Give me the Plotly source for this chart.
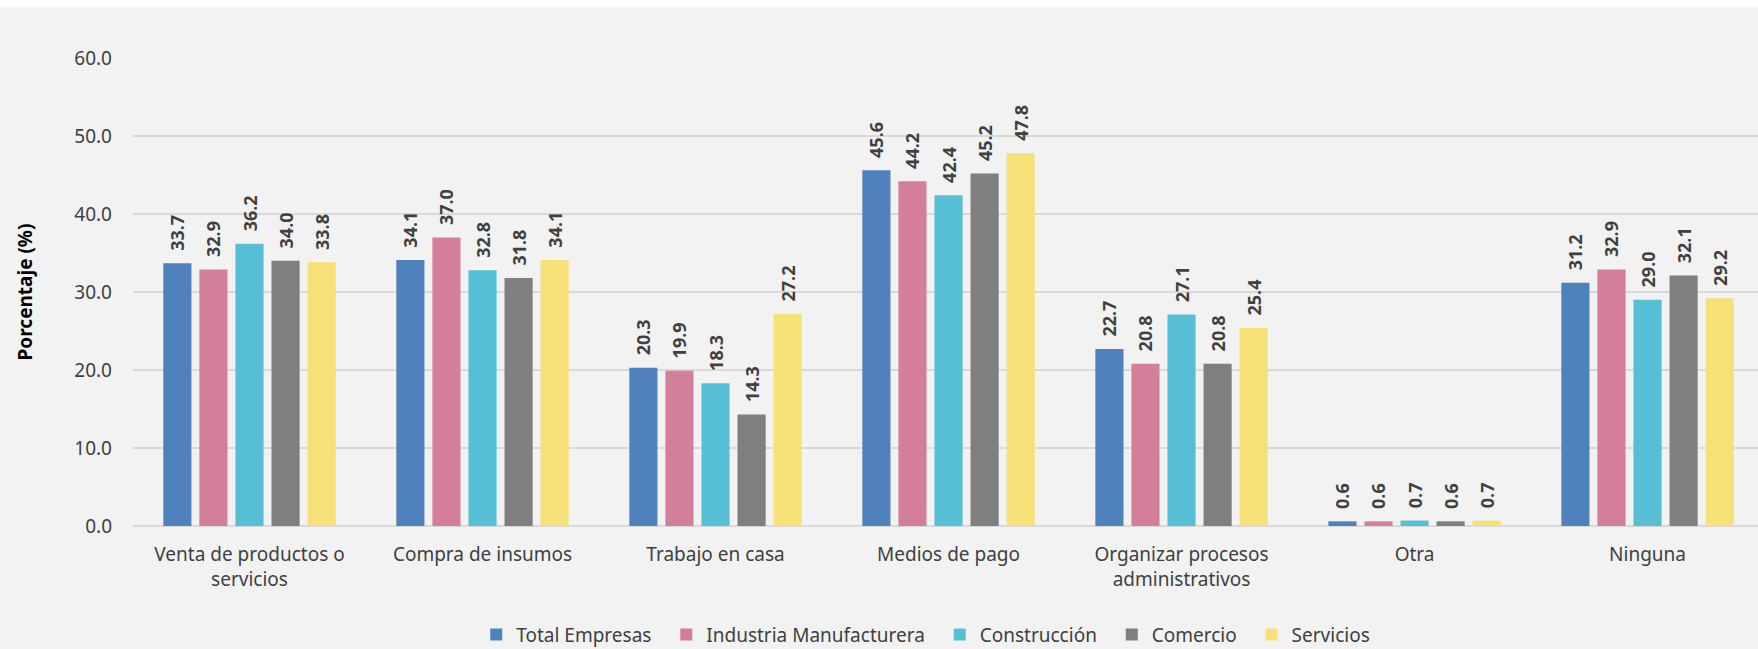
import plotly.graph_objects as go

categories = ["Venta de productos o<br>servicios", "Compra de insumos", "Trabajo en casa",
              "Medios de pago", "Organizar procesos<br>administrativos", "Otra", "Ninguna"]
series_names = ["Total Empresas", "Industria Manufacturera", "Construcción", "Comercio", "Servicios"]
total_empresas = [33.7, 34.1, 20.3, 45.6, 22.7, 0.6, 31.2]
industria_manufacturera = [32.9, 37.0, 19.9, 44.2, 20.8, 0.6, 32.9]
construccion = [36.2, 32.8, 18.3, 42.4, 27.1, 0.7, 29.0]
comercio = [34.0, 31.8, 14.3, 45.2, 20.8, 0.6, 32.1]
servicios = [33.8, 34.1, 27.2, 47.8, 25.4, 0.7, 29.2]
y_ticks = [0, 10, 20, 30, 40, 50, 60]

series_values = [total_empresas, industria_manufacturera, construccion, comercio, servicios]
colors = ["#4f81bd", "#d47f9a", "#56bfd6", "#7f7f7f", "#f7e077"]

FONT = "Noto Sans, Open Sans, sans-serif"
TXT = "#404040"

fig = go.Figure()
n = len(series_names)
for i, (name, vals, col) in enumerate(zip(series_names, series_values, colors)):
    legend_label = name + ("\u00a0\u00a0" if i < n - 1 else "")
    fig.add_trace(go.Bar(
        name=legend_label, x=categories, y=vals,
        marker=dict(color=col, line=dict(width=0)),
        text=[f"\u00a0\u00a0{v:.1f}" for v in vals],
        textposition="outside", textangle=-90, constraintext="none",
        textfont=dict(family=FONT, size=18, color=TXT, weight="bold"),
        cliponaxis=False,
    ))

fig.update_layout(
    width=1758, height=649,
    margin=dict(l=133, r=0, t=58, b=123, pad=0),
    paper_bgcolor="#f2f2f2", plot_bgcolor="#f2f2f2",
    barmode="group", bargap=0.226, bargroupgap=0.22,
    font=dict(family=FONT, color=TXT),
    legend=dict(orientation="h", xref="container", yref="container",
                x=0.5266, xanchor="center", y=0.022, yanchor="middle",
                font=dict(family=FONT, size=19, color=TXT),
                itemwidth=30, bgcolor="rgba(0,0,0,0)", tracegroupgap=0),
    xaxis=dict(tickfont=dict(family=FONT, size=19, color=TXT), showgrid=False,
               showline=False, ticks="", range=[-0.5, 6.474], ticklabelstandoff=15),
    yaxis=dict(range=[0, 60], tickvals=y_ticks, tickformat=".1f",
               tickfont=dict(family=FONT, size=19, color=TXT),
               gridcolor="#d9d9d9", gridwidth=1.5, zeroline=True,
               zerolinecolor="#d9d9d9", zerolinewidth=1.5, showline=False,
               ticklabelstandoff=20,
               title=dict(text="<b>Porcentaje (%)</b>", standoff=36,
                          font=dict(family=FONT, size=19, color="#000000"))),
    shapes=[dict(type="rect", xref="paper", yref="paper", x0=-0.2, x1=1.2,
                 y0=1.1083, y1=1.3, fillcolor="#ffffff", line=dict(width=0), layer="above")],
)

fig.write_html("out.html", config={"displayModeBar": False},
               post_script="document.body.style.margin='0';document.body.style.overflow='hidden';")
